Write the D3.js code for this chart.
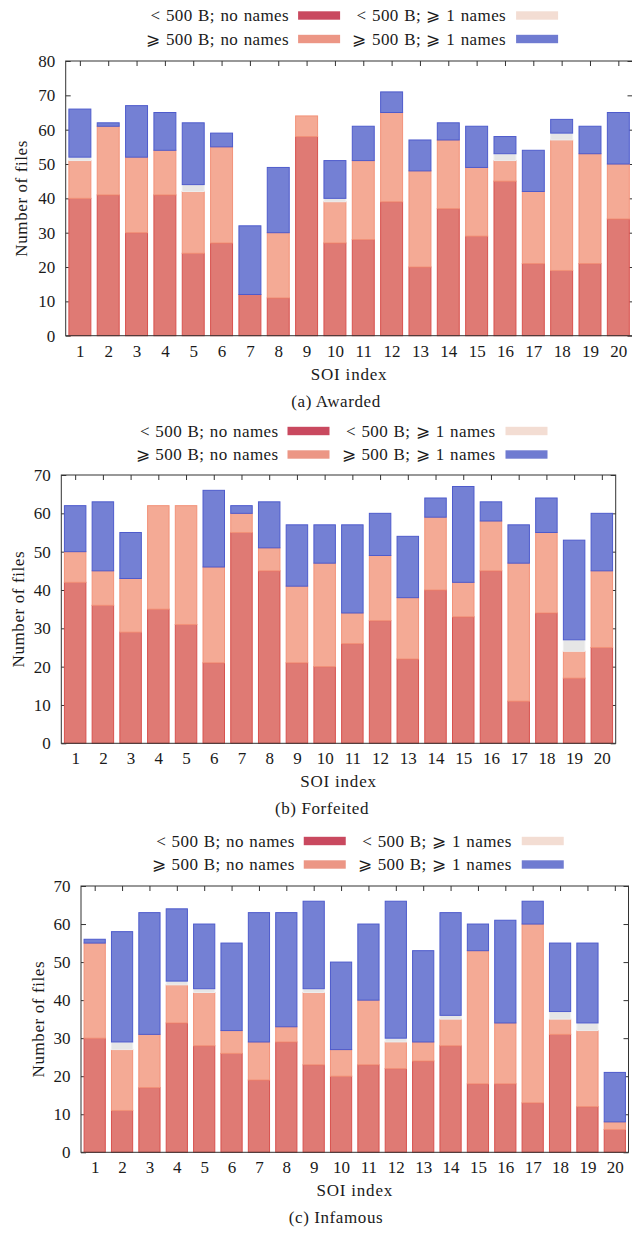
<!DOCTYPE html>
<html>
<head>
<meta charset="utf-8">
<script src="https://cdn.jsdelivr.net/npm/d3@7"></script>
<style>
  body { margin: 0; background: #fff; }
  svg text { font-family: "Liberation Serif", "DejaVu Serif", serif; fill: #1a1a1a; }
</style>
</head>
<body>
<svg id="chart" width="632" height="1234"></svg>
<script>
const soiIndex = [1, 2, 3, 4, 5, 6, 7, 8, 9, 10, 11, 12, 13, 14, 15, 16, 17, 18, 19, 20];

const seriesLabels = ["< 500 B; no names", "< 500 B; \u2A7E 1 names", "\u2A7E 500 B; no names", "\u2A7E 500 B; \u2A7E 1 names"];
const seriesKeys = ["smallNoNames", "smallNames", "largeNoNames", "largeNames"];

// (a) Awarded
const awardedSmallNoNames = [40, 41, 30, 41, 24, 27, 12, 11, 58, 27, 28, 39, 20, 37, 29, 45, 21, 19, 21, 34];
const awardedSmallNames   = [1, 0, 0, 0, 2, 0, 0, 0, 0, 1, 0, 0, 0, 0, 0, 2, 0, 2, 0, 0];
const awardedLargeNoNames = [11, 20, 22, 13, 18, 28, 0, 19, 6, 12, 23, 26, 28, 20, 20, 6, 21, 38, 32, 16];
const awardedLargeNames   = [14, 1, 15, 11, 18, 4, 20, 19, 0, 11, 10, 6, 9, 5, 12, 5, 12, 4, 8, 15];

// (b) Forfeited
const forfeitedSmallNoNames = [42, 36, 29, 35, 31, 21, 55, 45, 21, 20, 26, 32, 22, 40, 33, 45, 11, 34, 17, 25];
const forfeitedSmallNames   = [0, 0, 0, 0, 0, 0, 0, 0, 0, 0, 0, 0, 0, 0, 0, 0, 0, 0, 3, 0];
const forfeitedLargeNoNames = [8, 9, 14, 27, 31, 25, 5, 6, 20, 27, 8, 17, 16, 19, 9, 13, 36, 21, 7, 20];
const forfeitedLargeNames   = [12, 18, 12, 0, 0, 20, 2, 12, 16, 10, 23, 11, 16, 5, 25, 5, 10, 9, 26, 15];

// (c) Infamous
const infamousSmallNoNames = [30, 11, 17, 34, 28, 26, 19, 29, 23, 20, 23, 22, 24, 28, 18, 18, 13, 31, 12, 6];
const infamousSmallNames   = [0, 2, 0, 1, 1, 0, 0, 0, 1, 0, 0, 1, 0, 1, 0, 0, 0, 2, 2, 0];
const infamousLargeNoNames = [25, 16, 14, 10, 14, 6, 10, 4, 19, 7, 17, 7, 5, 7, 35, 16, 47, 4, 20, 2];
const infamousLargeNames   = [1, 29, 32, 19, 17, 23, 34, 30, 23, 23, 20, 36, 24, 27, 7, 27, 6, 18, 21, 13];

const yTicksA = [0, 10, 20, 30, 40, 50, 60, 70, 80];
const yTicksBC = [0, 10, 20, 30, 40, 50, 60, 70];

// bottom to top stacking order used in the bars
const stackKeys = ["smallNoNames", "largeNoNames", "smallNames", "largeNames"];
const legendColor = { smallNoNames: "#c9495f", smallNames: "#f3ddd3", largeNoNames: "#ec9685", largeNames: "#6f7bd1" };
const barFill = { smallNoNames: "#df7a74", smallNames: "#e6e6e6", largeNoNames: "#f4aa95", largeNames: "#7480d4" };
const barStroke = { smallNoNames: "#d8524e", smallNames: "#eeeeee", largeNoNames: "#f29279", largeNames: "#4e5bcc" };

const FONT = 17;

const svg = d3.select("#chart");

const panels = [
  { caption: "(a) Awarded", data: [awardedSmallNoNames, awardedSmallNames, awardedLargeNoNames, awardedLargeNames],
    x0: 65.7, x1: 632.5, yTop: 61, yBottom: 335.7, yTicks: yTicksA, yLabelX: 21, legendTop: 15.5, captionX: 336 },
  { caption: "(b) Forfeited", data: [forfeitedSmallNoNames, forfeitedSmallNames, forfeitedLargeNoNames, forfeitedLargeNames],
    x0: 61.3, x1: 615.7, yTop: 475, yBottom: 743.3, yTicks: yTicksBC, yLabelX: 18.5, legendTop: 431, captionX: 322 },
  { caption: "(c) Infamous", data: [infamousSmallNoNames, infamousSmallNames, infamousLargeNoNames, infamousLargeNames],
    x0: 81, x1: 628.5, yTop: 886, yBottom: 1152.3, yTicks: yTicksBC, yLabelX: 38.5, legendTop: 841, captionX: 336 }
];

const drawPanel = (p) => {
  const rows = soiIndex.map((soi, i) => {
    const r = { soi };
    seriesKeys.forEach((k, j) => (r[k] = p.data[j][i]));
    return r;
  });

  const xScale = d3.scaleLinear().domain([0.5, 20.5]).range([p.x0, p.x1]);
  const yMax = p.yTicks[p.yTicks.length - 1];
  const yScale = d3.scaleLinear().domain([0, yMax]).range([p.yBottom, p.yTop]);
  const step = xScale(2) - xScale(1);
  const barW = step * 0.775;

  const g = svg.append("g");

  // inward ticks on all four sides
  const axes = [
    { axis: d3.axisBottom(xScale).tickValues(soiIndex).tickFormat(d3.format("d")), t: `translate(0,${p.yBottom})`, labels: true, pad: 9 },
    { axis: d3.axisTop(xScale).tickValues(soiIndex), t: `translate(0,${p.yTop})`, labels: false, pad: 9 },
    { axis: d3.axisLeft(yScale).tickValues(p.yTicks), t: `translate(${p.x0},0)`, labels: true, pad: 10.5 },
    { axis: d3.axisRight(yScale).tickValues(p.yTicks), t: `translate(${p.x1},0)`, labels: false, pad: 9 }
  ];
  axes.forEach((a) => {
    const ag = g.append("g")
      .attr("transform", a.t)
      .call(a.axis.tickSize(-5).tickPadding(a.pad));
    ag.select(".domain").remove();
    ag.selectAll("line").attr("stroke", "#333");
    ag.selectAll("text")
      .attr("font-size", FONT)
      .attr("font-family", null)
      .attr("fill", "#1a1a1a")
      .style("display", a.labels ? null : "none");
  });

  const stacked = d3.stack().keys(stackKeys)(rows);

  g.append("g")
    .selectAll("g")
    .data(stacked)
    .join("g")
    .attr("fill", (s) => barFill[s.key])
    .attr("stroke", (s) => barStroke[s.key])
    .attr("stroke-width", 1)
    .selectAll("rect")
    .data((s) => s.filter((d) => d[1] - d[0] > 0))
    .join("rect")
    .attr("x", (d) => xScale(d.data.soi) - barW / 2)
    .attr("width", barW)
    .attr("y", (d) => yScale(d[1]))
    .attr("height", (d) => yScale(d[0]) - yScale(d[1]));

  g.append("rect")
    .attr("x", p.x0)
    .attr("y", p.yTop)
    .attr("width", p.x1 - p.x0)
    .attr("height", p.yBottom - p.yTop)
    .attr("fill", "none")
    .attr("stroke", "#333")
    .attr("stroke-width", 1);

  const cx = (p.x0 + p.x1) / 2;

  g.append("text")
    .attr("transform", `translate(${p.yLabelX},${(p.yTop + p.yBottom) / 2}) rotate(-90)`)
    .attr("text-anchor", "middle")
    .attr("dy", "0.35em")
    .attr("font-size", FONT)
    .attr("letter-spacing", 0.6)
    .text("Number of files");

  g.append("text")
    .attr("x", cx)
    .attr("y", p.yBottom + 44)
    .attr("text-anchor", "middle")
    .attr("font-size", FONT)
    .attr("letter-spacing", 0.8)
    .text("SOI index");

  g.append("text")
    .attr("x", p.captionX)
    .attr("y", p.yBottom + 71)
    .attr("text-anchor", "middle")
    .attr("font-size", FONT)
    .attr("letter-spacing", 0.6)
    .text(p.caption);

  // legend, two rows x two columns, centred on the plot
  const legendItems = [
    { key: "smallNoNames", label: seriesLabels[0], col: 0, row: 0 },
    { key: "smallNames", label: seriesLabels[1], col: 1, row: 0 },
    { key: "largeNoNames", label: seriesLabels[2], col: 0, row: 1 },
    { key: "largeNames", label: seriesLabels[3], col: 1, row: 1 }
  ];
  const colText = [-60, 157];
  const colSwatch = [-51, 167];
  const lg = g.append("g");
  legendItems.forEach((it) => {
    const yc = p.legendTop + it.row * 23.5;
    lg.append("text")
      .attr("x", cx + colText[it.col])
      .attr("y", yc + 5.5)
      .attr("text-anchor", "end")
      .attr("font-size", FONT)
      .attr("letter-spacing", 0.4)
      .attr("word-spacing", 0.8)
      .text(it.label);
    lg.append("rect")
      .attr("x", cx + colSwatch[it.col])
      .attr("y", yc - 4.2)
      .attr("width", 42)
      .attr("height", 8.4)
      .attr("fill", legendColor[it.key]);
  });
};

panels.forEach(drawPanel);
</script>
</body>
</html>
